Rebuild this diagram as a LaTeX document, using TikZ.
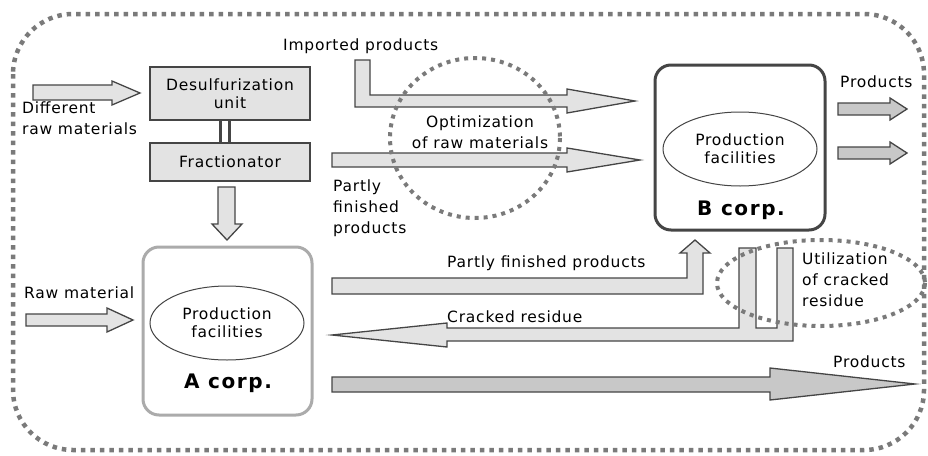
\documentclass[tikz,border=0pt]{standalone}
\usepackage{fontspec}
\setmainfont{DejaVu Sans}[LetterSpace=5]
\newfontfamily\corpfont{DejaVu Sans}[LetterSpace=8]
\usetikzlibrary{shapes.geometric}
\definecolor{edge}{HTML}{454545}
\definecolor{pale}{HTML}{E3E3E3}
\definecolor{mid}{HTML}{C8C8C8}
\definecolor{dotc}{HTML}{7A7A7A}
\definecolor{soft}{HTML}{ABABAB}
\begin{document}
\begin{tikzpicture}[x=1pt,y=-1pt,
  lbl/.style={inner sep=0pt, font=\fontsize{15.5}{21}\selectfont},
  unitbox/.style={draw=edge, fill=pale, line width=1.6pt, inner sep=0pt, align=center, font=\fontsize{15.5}{21}\selectfont},
  corpbox/.style={rounded corners=16pt, line width=3pt, fill=white},
  facility/.style={ellipse, draw=edge, line width=1pt, fill=white, inner sep=0pt, minimum width=154pt, minimum height=74pt, align=center, font=\fontsize{15.5}{21}\selectfont},
  fat/.style={draw=edge, fill=pale, line width=1.3pt, line join=miter},
  fatdark/.style={fat, fill=mid},
  ring/.style={dotc, line width=4pt, dash pattern=on 4pt off 5pt},
  corpname/.style={inner sep=0pt, font=\fontsize{20}{22}\corpfont\bfseries}]
\useasboundingbox (0,0) rectangle (928,455);

% outer boundary
\draw[ring, line width=4.5pt, dash pattern=on 4.5pt off 5pt, rounded corners=60pt] (13,14) rectangle (924,450);

% feed treatment units
\node[unitbox, minimum width=160pt, minimum height=53pt] (desulf) at (230,93.5) {Desulfurization\\[-3pt]unit};
\node[unitbox, minimum width=160pt, minimum height=38pt] (fract) at (230,162) {Fractionator};
\draw[edge, line width=3pt] (220,120) -- (220,143);
\draw[edge, line width=3pt] (229,120) -- (229,143);

% corporations
\draw[edge, corpbox] (655,65) rectangle (825,230);
\node[facility] (bfac) at (740,149) {Production\\[-3pt]facilities};
\node[corpname] (bname) at (741,210) {B corp.};

\draw[soft, corpbox] (143,247) rectangle (312,415);
\node[facility] (afac) at (227,323) {Production\\[-3pt]facilities};
\node[corpname] (aname) at (228,383) {A corp.};

% block arrows
\draw[fat] (33,85) -- (112,85) -- (112,81) -- (140,93) -- (112,105) -- (112,100) -- (33,100) -- cycle;
\draw[fat] (218,187) -- (235,187) -- (235,224) -- (242,224) -- (227,240) -- (212,224) -- (218,224) -- cycle;
\draw[fat] (26,314) -- (107,314) -- (107,308) -- (133,320) -- (107,332) -- (107,326) -- (26,326) -- cycle;
\draw[fat] (355,60) -- (370,60) -- (370,95) -- (567,95) -- (567,89) -- (635,101) -- (567,113) -- (567,107) -- (355,107) -- cycle;
\draw[fat] (332,153) -- (567,153) -- (567,148) -- (640,160) -- (567,172) -- (567,167) -- (332,167) -- cycle;
\draw[fat] (332,278) -- (687,278) -- (687,253) -- (680,253) -- (695,240) -- (710,253) -- (703,253) -- (703,294) -- (332,294) -- cycle;
\draw[fat] (739,248) -- (756,248) -- (756,328) -- (777,328) -- (777,248) -- (793,248) -- (793,341) -- (447,341) -- (447,347) -- (332,335) -- (447,323) -- (447,328) -- (739,328) -- cycle;
\draw[fatdark] (332,377) -- (770,377) -- (770,368) -- (915,384) -- (770,400) -- (770,392) -- (332,392) -- cycle;
\draw[fatdark] (838,103) -- (890,103) -- (890,98) -- (907,109) -- (890,120) -- (890,115) -- (838,115) -- cycle;
\draw[fatdark] (838,147) -- (890,147) -- (890,142) -- (907,153) -- (890,164) -- (890,159) -- (838,159) -- cycle;

% dotted focus rings
\draw[ring] (475,138) ellipse [x radius=85, y radius=80];
\draw[ring] (821,283) ellipse [x radius=104, y radius=43];

% labels
\node[lbl, align=left, anchor=north west] (diff) at (22,102) {Different\\raw materials};
\node[lbl, anchor=west] (impt) at (283,46) {Imported products};
\node[lbl, align=center] (optim) at (480,132) {Optimization\\of raw materials};
\node[lbl, align=left, anchor=north west] (pfp1) at (333,180) {Partly\\finished\\products};
\node[lbl, anchor=west] (prodb) at (840,82) {Products};
\node[lbl, anchor=west] (rawm) at (24,293) {Raw material};
\node[lbl, anchor=west] (pfp2) at (447,263) {Partly finished products};
\node[lbl, anchor=west] (crack) at (447,317) {Cracked residue};
\node[lbl, align=left, anchor=north west] (util) at (802,253) {Utilization\\of cracked\\residue};
\node[lbl, anchor=west] (proda) at (833,362) {Products};
\end{tikzpicture}
\end{document}
